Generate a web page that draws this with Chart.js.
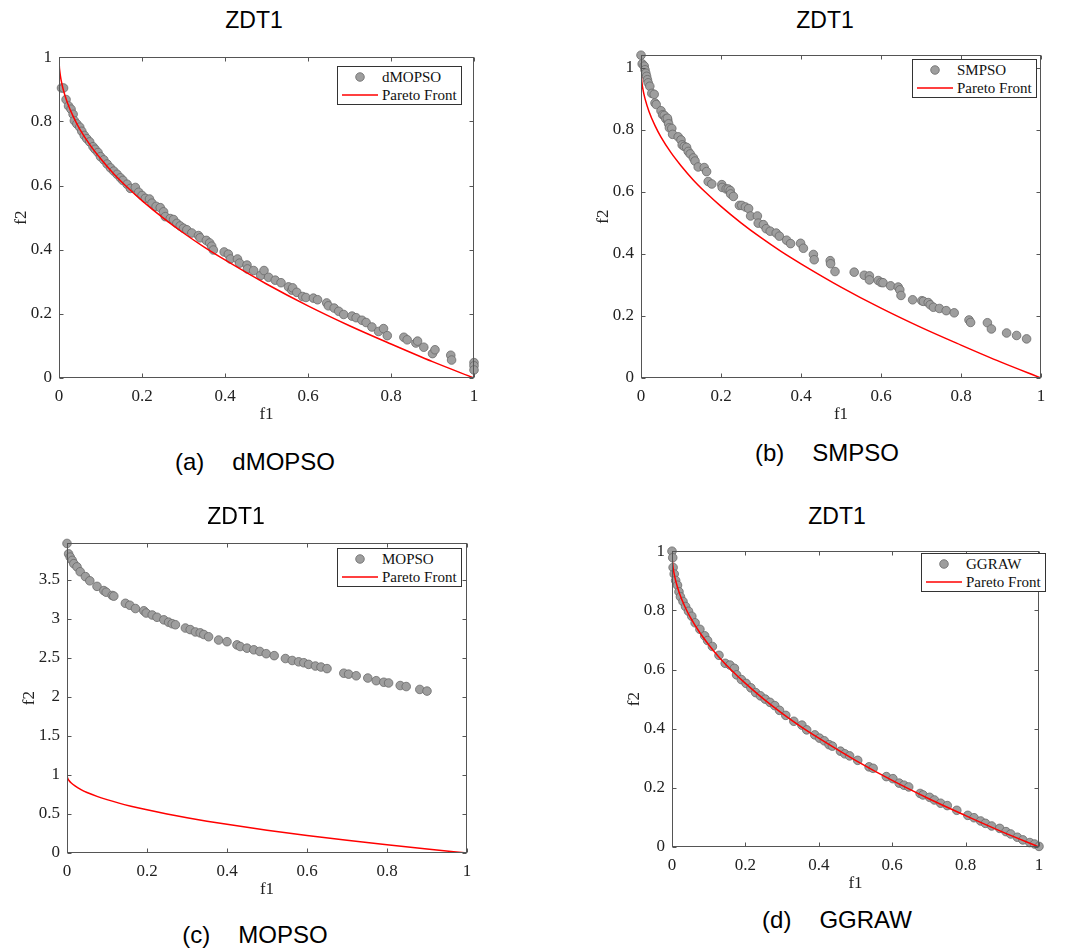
<!DOCTYPE html>
<html>
<head>
<meta charset="utf-8">
<script src="https://cdn.jsdelivr.net/npm/chart.js@4.4.0/dist/chart.umd.min.js"></script>
<style>
body { margin: 0; background: #fff; }
#fig { position: relative; width: 1065px; height: 950px; overflow: hidden; font-family: "Liberation Sans", Arial, sans-serif; }
#fig canvas { position: absolute; }
.t { position: absolute; transform: translate(-50%, -50%); line-height: 1; white-space: nowrap; color: #000; }
.title { font-size: 23px; }
.cap { font-size: 24px; }
.cap span + span { margin-left: 28px; }
.lg { position: absolute; background: #fff; border: 1px solid #333; padding: 1px 4px 0 4px;
      font: 15px "Liberation Serif", "Times New Roman", serif; color: #111; }
.lg div { height: 18px; display: flex; align-items: center; }
.lg svg { margin-right: 4px; }
</style>
</head>
<body>
<div id="fig">
  <canvas id="cA"></canvas>
  <canvas id="cB"></canvas>
  <canvas id="cC"></canvas>
  <canvas id="cD"></canvas>
</div>
<script>
// tick labels
const f1Ticks = [0, 0.2, 0.4, 0.6, 0.8, 1];
const f2TicksUnit = [0, 0.2, 0.4, 0.6, 0.8, 1];
const f2TicksMopso = [0, 0.5, 1, 1.5, 2, 2.5, 3, 3.5];

// Pareto front of ZDT1
const frontF1 = [0, 0.0005, 0.002, 0.005, 0.01, 0.02, 0.035, 0.05, 0.075, 0.1, 0.13, 0.16, 0.2, 0.25, 0.3, 0.35, 0.4, 0.5, 0.6, 0.7, 0.8, 0.9, 1];
const frontF2 = [1, 0.978, 0.955, 0.929, 0.9, 0.859, 0.813, 0.776, 0.726, 0.684, 0.639, 0.6, 0.553, 0.5, 0.452, 0.408, 0.368, 0.293, 0.225, 0.163, 0.106, 0.051, 0];

// (a) dMOPSO
const dmopsoF1 = [0.006, 0.011, 0.017, 0.023, 0.029, 0.034, 0.037, 0.043, 0.05, 0.055, 0.061, 0.067, 0.074, 0.082, 0.087, 0.094, 0.1, 0.108, 0.116, 0.124,
  0.132, 0.14, 0.148, 0.154, 0.164, 0.172, 0.184, 0.192, 0.2, 0.208, 0.218, 0.224, 0.234, 0.244, 0.252, 0.256, 0.268, 0.276, 0.284, 0.292,
  0.3, 0.308, 0.32, 0.336, 0.34, 0.355, 0.363, 0.368, 0.372, 0.398, 0.408, 0.413, 0.43, 0.435, 0.453, 0.454, 0.469, 0.486, 0.494, 0.505,
  0.521, 0.535, 0.553, 0.561, 0.563, 0.573, 0.587, 0.595, 0.613, 0.623, 0.645, 0.649, 0.663, 0.674, 0.686, 0.706, 0.716, 0.73, 0.74, 0.754,
  0.77, 0.782, 0.791, 0.831, 0.839, 0.86, 0.864, 0.879, 0.9, 0.906, 0.944, 0.946, 1.0, 1.0, 1.0];
const dmopsoF2 = [0.904, 0.904, 0.868, 0.848, 0.838, 0.822, 0.802, 0.792, 0.782, 0.769, 0.756, 0.746, 0.736, 0.721, 0.713, 0.703, 0.69, 0.68, 0.667, 0.655,
  0.645, 0.635, 0.624, 0.616, 0.604, 0.591, 0.594, 0.579, 0.569, 0.56, 0.558, 0.545, 0.535, 0.531, 0.518, 0.503, 0.497, 0.494, 0.482, 0.474,
  0.467, 0.462, 0.452, 0.444, 0.437, 0.429, 0.421, 0.411, 0.399, 0.393, 0.386, 0.371, 0.371, 0.358, 0.352, 0.34, 0.335, 0.32, 0.335, 0.314,
  0.305, 0.297, 0.284, 0.274, 0.281, 0.267, 0.254, 0.251, 0.249, 0.244, 0.234, 0.225, 0.218, 0.208, 0.198, 0.193, 0.188, 0.18, 0.173, 0.159,
  0.145, 0.154, 0.132, 0.127, 0.119, 0.109, 0.115, 0.096, 0.076, 0.088, 0.071, 0.056, 0.048, 0.038, 0.025];

// (b) SMPSO
const smpsoF1 = [0, 0.003, 0.008, 0.01, 0.012, 0.014, 0.016, 0.018, 0.022, 0.027, 0.033, 0.035, 0.038, 0.05, 0.054, 0.058, 0.062, 0.067, 0.066, 0.069,
  0.071, 0.077, 0.079, 0.093, 0.1, 0.103, 0.108, 0.114, 0.118, 0.123, 0.131, 0.135, 0.143, 0.158, 0.164, 0.168, 0.177, 0.202, 0.203, 0.213,
  0.218, 0.223, 0.224, 0.231, 0.246, 0.252, 0.261, 0.269, 0.274, 0.291, 0.293, 0.306, 0.313, 0.323, 0.338, 0.346, 0.364, 0.374, 0.399, 0.406,
  0.431, 0.433, 0.473, 0.474, 0.485, 0.533, 0.558, 0.571, 0.571, 0.593, 0.6, 0.605, 0.624, 0.643, 0.647, 0.65, 0.679, 0.702, 0.706, 0.718,
  0.723, 0.731, 0.746, 0.763, 0.783, 0.82, 0.824, 0.866, 0.876, 0.914, 0.939, 0.964];
const smpsoF2 = [1.04, 1.012, 1.005, 0.993, 0.982, 0.972, 0.961, 0.951, 0.94, 0.917, 0.914, 0.886, 0.881, 0.861, 0.848, 0.846, 0.835, 0.83, 0.837, 0.819,
  0.806, 0.804, 0.785, 0.777, 0.767, 0.751, 0.746, 0.743, 0.73, 0.722, 0.709, 0.699, 0.68, 0.678, 0.665, 0.633, 0.625, 0.623, 0.614, 0.609,
  0.609, 0.604, 0.593, 0.585, 0.556, 0.556, 0.551, 0.546, 0.522, 0.522, 0.499, 0.494, 0.481, 0.473, 0.467, 0.457, 0.444, 0.433, 0.434, 0.418,
  0.398, 0.381, 0.378, 0.368, 0.343, 0.341, 0.331, 0.329, 0.316, 0.314, 0.308, 0.307, 0.297, 0.293, 0.284, 0.266, 0.252, 0.249, 0.247, 0.243,
  0.236, 0.228, 0.224, 0.217, 0.21, 0.187, 0.179, 0.178, 0.158, 0.145, 0.137, 0.126];

// (c) MOPSO
const mopsoF1 = [0, 0.004, 0.008, 0.013, 0.017, 0.025, 0.033, 0.046, 0.057, 0.075, 0.092, 0.098, 0.113, 0.117, 0.146, 0.157, 0.171, 0.192, 0.198, 0.213,
  0.225, 0.242, 0.254, 0.263, 0.271, 0.296, 0.308, 0.321, 0.333, 0.342, 0.354, 0.379, 0.4, 0.425, 0.433, 0.45, 0.467, 0.482, 0.498, 0.518,
  0.546, 0.563, 0.579, 0.592, 0.604, 0.621, 0.635, 0.65, 0.692, 0.704, 0.723, 0.752, 0.773, 0.792, 0.804, 0.833, 0.848, 0.882, 0.9];
const mopsoF2 = [3.967, 3.833, 3.792, 3.75, 3.708, 3.667, 3.604, 3.542, 3.488, 3.417, 3.363, 3.342, 3.3, 3.292, 3.2, 3.175, 3.133, 3.104, 3.075, 3.05,
  3.021, 2.988, 2.958, 2.938, 2.925, 2.883, 2.863, 2.833, 2.821, 2.8, 2.771, 2.729, 2.708, 2.667, 2.646, 2.625, 2.604, 2.583, 2.554, 2.529,
  2.492, 2.467, 2.45, 2.438, 2.417, 2.396, 2.383, 2.363, 2.304, 2.292, 2.271, 2.242, 2.208, 2.188, 2.179, 2.146, 2.133, 2.096, 2.075];

// (d) GGRAW
const ggrawF1 = [0, 0.002, 0.003, 0.006, 0.01, 0.015, 0.019, 0.023, 0.03, 0.037, 0.045, 0.054, 0.063, 0.076, 0.089, 0.097, 0.11, 0.128, 0.145, 0.158,
  0.17, 0.176, 0.189, 0.202, 0.215, 0.228, 0.241, 0.254, 0.267, 0.28, 0.293, 0.31, 0.332, 0.354, 0.367, 0.389, 0.402, 0.415, 0.428, 0.437,
  0.459, 0.471, 0.484, 0.506, 0.537, 0.548, 0.584, 0.602, 0.619, 0.632, 0.645, 0.676, 0.684, 0.702, 0.715, 0.732, 0.75, 0.776, 0.806, 0.823,
  0.841, 0.854, 0.871, 0.893, 0.91, 0.923, 0.941, 0.956, 0.975, 0.988, 1.0];
const ggrawF2 = [1.0, 0.978, 0.945, 0.923, 0.901, 0.885, 0.863, 0.846, 0.83, 0.813, 0.797, 0.78, 0.758, 0.736, 0.714, 0.698, 0.678, 0.648, 0.621, 0.615,
  0.604, 0.582, 0.566, 0.553, 0.538, 0.522, 0.511, 0.5, 0.489, 0.478, 0.462, 0.445, 0.425, 0.412, 0.396, 0.379, 0.368, 0.359, 0.346, 0.341,
  0.324, 0.315, 0.308, 0.293, 0.271, 0.266, 0.238, 0.231, 0.216, 0.209, 0.203, 0.181, 0.176, 0.168, 0.159, 0.148, 0.14, 0.124, 0.107, 0.099,
  0.088, 0.08, 0.071, 0.063, 0.052, 0.044, 0.033, 0.024, 0.015, 0.01, 0.002];

const panels = [
  { id: 'cA', name: 'dMOPSO', tag: '(a)', f1: dmopsoF1, f2: dmopsoF2, yMax: 1, yTicks: f2TicksUnit,
    plot: [59, 50, 474, 378], title: [254, 20], cap: [255, 462], legend: [337, 66] },
  { id: 'cB', name: 'SMPSO', tag: '(b)', f1: smpsoF1, f2: smpsoF2, yMax: 1.04, yTicks: f2TicksUnit,
    plot: [641, 48, 1041, 378], title: [825, 20], cap: [827, 453], legend: [912, 59] },
  { id: 'cC', name: 'MOPSO', tag: '(c)', f1: mopsoF1, f2: mopsoF2, yMax: 3.97, yTicks: f2TicksMopso,
    plot: [67, 536, 467, 853], title: [236, 516], cap: [255, 935], legend: [337, 548] },
  { id: 'cD', name: 'GGRAW', tag: '(d)', f1: ggrawF1, f2: ggrawF2, yMax: 1, yTicks: f2TicksUnit,
    plot: [672, 544, 1039, 847], title: [837, 516], cap: [837, 920], legend: [921, 553] }
];

const AXW = 48, AXH = 47, PADT = 10, PADR = 15;
const tickFont = { family: '"Liberation Serif", "Times New Roman", serif', size: 17 };
const labelFont = { family: '"Liberation Serif", "Times New Roman", serif', size: 17 };

// MATLAB-like box with inward ticks on all four sides
const matlabBox = {
  id: 'matlabBox',
  afterDraw(chart) {
    const { ctx, chartArea: a, scales } = chart;
    const x = scales.x, y = scales.y;
    const L = Math.round(a.left) + 0.5, R = Math.round(a.right) - 0.5;
    const T = Math.round(a.top) + 0.5, B = Math.round(a.bottom) - 0.5;
    ctx.save();
    ctx.strokeStyle = '#555';
    ctx.lineWidth = 1;
    ctx.beginPath();
    x.ticks.forEach(t => {
      const px = Math.round(x.getPixelForValue(t.value)) + 0.5;
      ctx.moveTo(px, B); ctx.lineTo(px, B - 4);
      ctx.moveTo(px, T); ctx.lineTo(px, T + 4);
    });
    y.ticks.forEach(t => {
      const py = Math.round(y.getPixelForValue(t.value)) + 0.5;
      ctx.moveTo(L, py); ctx.lineTo(L + 4, py);
      ctx.moveTo(R, py); ctx.lineTo(R - 4, py);
    });
    ctx.stroke();
    ctx.strokeRect(L, T, R - L, B - T);
    ctx.restore();
  }
};

const fmt = v => String(Math.round(v * 100) / 100);

const fig = document.getElementById('fig');

panels.forEach(p => {
  const [l, t, r, b] = p.plot;
  const cv = document.getElementById(p.id);
  cv.width = (r - l) + AXW + PADR;
  cv.height = (b - t) + PADT + AXH;
  cv.style.left = (l - AXW) + 'px';
  cv.style.top = (t - PADT) + 'px';

  new Chart(cv.getContext('2d'), {
    type: 'scatter',
    data: {
      datasets: [{
        label: p.name,
        data: p.f1.map((v, i) => ({ x: v, y: p.f2[i] })),
        pointRadius: 4.3,
        pointBackgroundColor: '#9e9e9e',
        pointBorderColor: '#6a6a6a',
        pointBorderWidth: 0.8,
        clip: false,
        order: 2
      }, {
        label: 'Pareto Front',
        data: frontF1.map((v, i) => ({ x: v, y: frontF2[i] })),
        showLine: true,
        borderColor: '#ff0000',
        borderWidth: 1.5,
        pointRadius: 0,
        cubicInterpolationMode: 'monotone',
        order: 1
      }]
    },
    options: {
      responsive: false,
      animation: false,
      events: [],
      layout: { padding: { left: 0, top: PADT, right: PADR, bottom: 0 } },
      plugins: { legend: { display: false }, tooltip: { enabled: false } },
      scales: {
        x: {
          type: 'linear', min: 0, max: 1,
          afterFit: s => { s.height = AXH; },
          afterBuildTicks: s => { s.ticks = f1Ticks.map(v => ({ value: v })); },
          grid: { display: false, drawTicks: false },
          border: { display: false },
          ticks: { padding: 8, color: '#222', font: tickFont, maxRotation: 0, autoSkip: false, callback: fmt },
          title: { display: true, text: 'f1', color: '#222', font: labelFont, padding: 0 }
        },
        y: {
          type: 'linear', min: 0, max: p.yMax,
          afterFit: s => { s.width = AXW; },
          afterBuildTicks: s => { s.ticks = p.yTicks.map(v => ({ value: v })); },
          grid: { display: false, drawTicks: false },
          border: { display: false },
          ticks: { padding: 7, color: '#222', font: tickFont, autoSkip: false, callback: fmt },
          title: { display: true, text: 'f2', color: '#222', font: labelFont, padding: 0 }
        }
      }
    },
    plugins: [matlabBox]
  });

  const ti = document.createElement('div');
  ti.className = 't title';
  ti.textContent = 'ZDT1';
  ti.style.left = p.title[0] + 'px';
  ti.style.top = p.title[1] + 'px';
  fig.appendChild(ti);

  const cap = document.createElement('div');
  cap.className = 't cap';
  cap.innerHTML = '<span>' + p.tag + '</span><span>' + p.name + '</span>';
  cap.style.left = p.cap[0] + 'px';
  cap.style.top = p.cap[1] + 'px';
  fig.appendChild(cap);

  const lg = document.createElement('div');
  lg.className = 'lg';
  lg.style.left = p.legend[0] + 'px';
  lg.style.top = p.legend[1] + 'px';
  lg.innerHTML =
    '<div><svg width="36" height="18"><circle cx="18" cy="9" r="4.3" fill="#9e9e9e" stroke="#6a6a6a" stroke-width="0.8"/></svg>' + p.name + '</div>' +
    '<div><svg width="36" height="18"><line x1="0" y1="9" x2="36" y2="9" stroke="#ff0000" stroke-width="1.5"/></svg>Pareto Front</div>';
  fig.appendChild(lg);
});
</script>
</body>
</html>
